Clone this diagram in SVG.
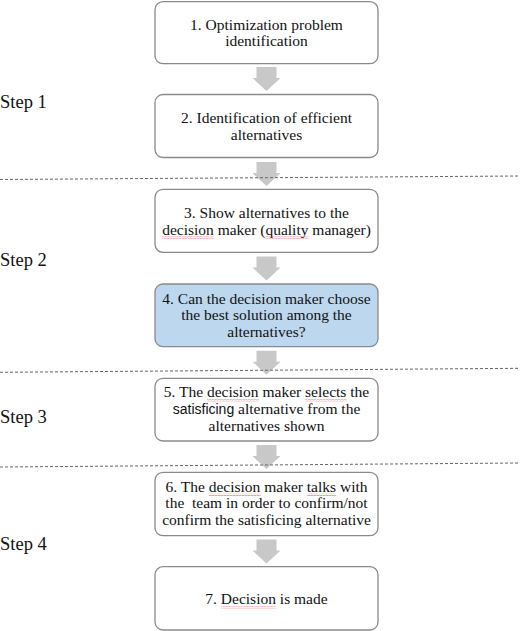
<svg xmlns="http://www.w3.org/2000/svg" width="520" height="631" viewBox="0 0 520 631">
<style>
.box{fill:#ffffff;stroke:#8a8a8a;stroke-width:1.3}
.hl{fill:#bdd7ee}
.t{font-family:'Liberation Serif','Tinos','DejaVu Serif',serif;font-size:15.5px;fill:#111;text-anchor:middle}
.sans{font-family:'Liberation Sans','Arimo',sans-serif;font-size:14px}
.step{font-family:'Liberation Serif','Tinos','DejaVu Serif',serif;font-size:18.5px;fill:#111}
.sep{stroke:#666;stroke-width:1;stroke-dasharray:3 2;fill:none}
.arr{fill:#c8c8c8}
.sq{fill:url(#squig)}
</style>
<defs>
<path id="arrow" d="M-10,0 H10 V11 H14 L0,24 L-14,11 H-10 Z"/>
<pattern id="squig" width="3" height="2.4" patternUnits="userSpaceOnUse">
<path d="M0,0.6 L1.5,1.8 L3,0.6" fill="none" stroke="#e04040" stroke-width="0.7"/>
</pattern>
</defs>
<g id="steps">
<text class="step" x="0" y="108">Step 1</text>
<text class="step" x="0" y="266">Step 2</text>
<text class="step" x="0" y="423">Step 3</text>
<text class="step" x="0" y="550">Step 4</text>
</g>
<g id="connectors">
<use href="#arrow" class="arr" x="266.5" y="67"/>
<use href="#arrow" class="arr" x="266.5" y="162"/>
<use href="#arrow" class="arr" x="266.5" y="256.5"/>
<use href="#arrow" class="arr" x="266.5" y="350.7"/>
<use href="#arrow" class="arr" x="266.5" y="445"/>
<use href="#arrow" class="arr" x="266.5" y="539.5"/>
</g>
<g id="separators">
<line class="sep" x1="0" y1="179.5" x2="520" y2="176"/>
<line class="sep" x1="0" y1="372.3" x2="520" y2="368.3"/>
<line class="sep" x1="0" y1="467" x2="520" y2="463"/>
</g>
<g id="node1">
<rect class="box" x="155" y="1.7" width="223" height="62" rx="8"/>
<text class="t" x="266.5" y="29.5">1. Optimization problem</text>
<text class="t" x="266.5" y="45.5">identification</text>
</g>
<g id="node2">
<rect class="box" x="155" y="94.5" width="223" height="63" rx="8"/>
<text class="t" x="266.5" y="123">2. Identification of efficient</text>
<text class="t" x="266.5" y="139.5">alternatives</text>
</g>
<g id="node3">
<rect class="box" x="155" y="189.3" width="223" height="63" rx="8"/>
<text class="t" x="266.5" y="217.5">3. Show alternatives to the</text>
<text class="t" x="266.5" y="234.5">decision maker (quality manager)</text>
<rect class="sq" x="162" y="236.5" width="51.7" height="2.4"/>
<rect class="sq" x="265.4" y="236.5" width="43" height="2.4"/>
</g>
<g id="node4">
<rect class="box hl" x="155" y="284" width="223" height="62.7" rx="8"/>
<text class="t" x="266.5" y="304">4. Can the decision maker choose</text>
<text class="t" x="266.5" y="320.3">the best solution among the</text>
<text class="t" x="266.5" y="336.7">alternatives?</text>
</g>
<g id="node5">
<rect class="box" x="155" y="378.3" width="223" height="62.7" rx="8"/>
<text class="t" x="266.5" y="397.3">5. The decision maker selects the</text>
<text class="t" x="266.5" y="414"><tspan class="sans">satisficing</tspan> alternative from the</text>
<text class="t" x="266.5" y="430.5">alternatives shown</text>
<rect class="sq" x="207" y="399.3" width="51.7" height="2.4"/>
<rect class="sq" x="305.2" y="399.3" width="41.3" height="2.4"/>
</g>
<g id="node6">
<rect class="box" x="155" y="472.3" width="223" height="63.4" rx="8"/>
<text class="t" x="266.5" y="491.7">6. The decision maker talks with</text>
<text class="t" x="266.5" y="508.3" xml:space="preserve">the  team in order to confirm/not</text>
<text class="t" x="266.5" y="525">confirm the satisficing alternative</text>
<rect class="sq" x="208.8" y="493.7" width="51.7" height="2.4"/>
<rect class="sq" x="306.9" y="493.7" width="29.3" height="2.4"/>
</g>
<g id="node7">
<rect class="box" x="155" y="566.7" width="223" height="63.3" rx="8"/>
<text class="t" x="266.5" y="604">7. Decision is made</text>
<rect class="sq" x="220.9" y="606" width="55.1" height="2.4"/>
</g>
</svg>
